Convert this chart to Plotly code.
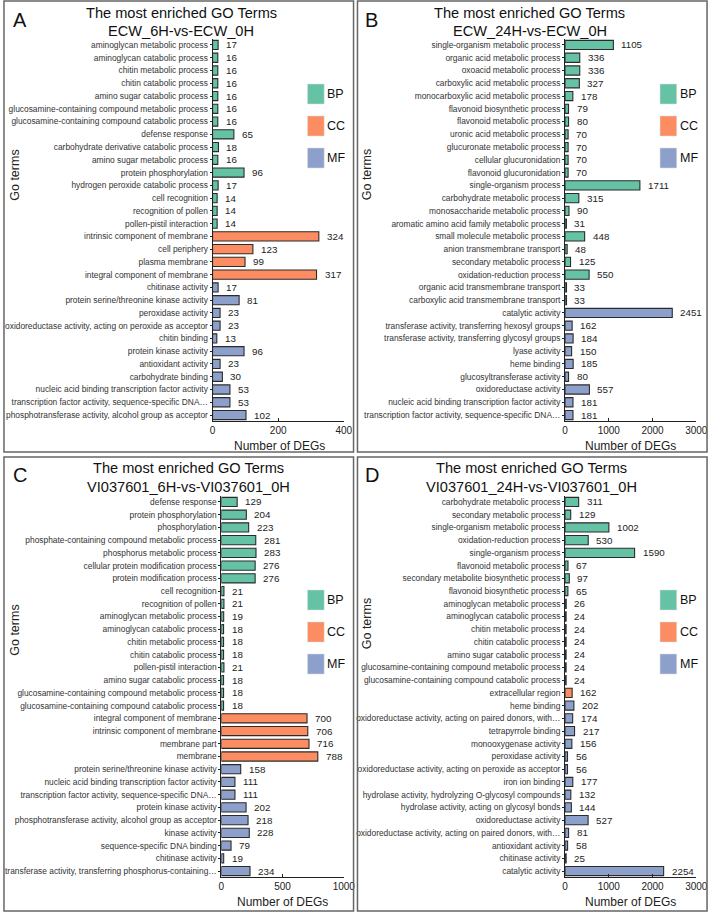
import plotly.graph_objects as go

W, H = 721, 913

# ---------------- Data ----------------
a_terms = [
    "aminoglycan metabolic process", "aminoglycan catabolic process", "chitin metabolic process",
    "chitin catabolic process", "amino sugar catabolic process",
    "glucosamine-containing compound metabolic process", "glucosamine-containing compound catabolic process",
    "defense response", "carbohydrate derivative catabolic process", "amino sugar metabolic process",
    "protein phosphorylation", "hydrogen peroxide catabolic process", "cell recognition",
    "recognition of pollen", "pollen-pistil interaction",
    "intrinsic component of membrane", "cell periphery", "plasma membrane", "integral component of membrane",
    "chitinase activity", "protein serine/threonine kinase activity", "peroxidase activity",
    "oxidoreductase activity, acting on peroxide as acceptor", "chitin binding", "protein kinase activity",
    "antioxidant activity", "carbohydrate binding", "nucleic acid binding transcription factor activity",
    "transcription factor activity, sequence-specific DNA…",
    "phosphotransferase activity, alcohol group as acceptor",
]
a_values = [17, 16, 16, 16, 16, 16, 16, 65, 18, 16, 96, 17, 14, 14, 14,
            324, 123, 99, 317,
            17, 81, 23, 23, 13, 96, 23, 30, 53, 53, 102]
a_groups = ["BP"] * 15 + ["CC"] * 4 + ["MF"] * 11

b_terms = [
    "single-organism metabolic process", "organic acid metabolic process", "oxoacid metabolic process",
    "carboxylic acid metabolic process", "monocarboxylic acid metabolic process",
    "flavonoid biosynthetic process", "flavonoid metabolic process", "uronic acid metabolic process",
    "glucuronate metabolic process", "cellular glucuronidation", "flavonoid glucuronidation",
    "single-organism process", "carbohydrate metabolic process", "monosaccharide metabolic process",
    "aromatic amino acid family metabolic process", "small molecule metabolic process",
    "anion transmembrane transport", "secondary metabolic process", "oxidation-reduction process",
    "organic acid transmembrane transport", "carboxylic acid transmembrane transport",
    "catalytic activity", "transferase activity, transferring hexosyl groups",
    "transferase activity, transferring glycosyl groups", "lyase activity", "heme binding",
    "glucosyltransferase activity", "oxidoreductase activity",
    "nucleic acid binding transcription factor activity",
    "transcription factor activity, sequence-specific DNA…",
]
b_values = [1105, 336, 336, 327, 178, 79, 80, 70, 70, 70, 70, 1711, 315, 90, 31, 448, 48, 125, 550, 33, 33,
            2451, 162, 184, 150, 185, 80, 557, 181, 181]
b_groups = ["BP"] * 21 + ["MF"] * 9

c_terms = [
    "defense response", "protein phosphorylation", "phosphorylation",
    "phosphate-containing compound metabolic process", "phosphorus metabolic process",
    "cellular protein modification process", "protein modification process", "cell recognition",
    "recognition of pollen", "aminoglycan metabolic process", "aminoglycan catabolic process",
    "chitin metabolic process", "chitin catabolic process", "pollen-pistil interaction",
    "amino sugar catabolic process", "glucosamine-containing compound metabolic process",
    "glucosamine-containing compound catabolic process",
    "integral component of membrane", "intrinsic component of membrane", "membrane part", "membrane",
    "protein serine/threonine kinase activity", "nucleic acid binding transcription factor activity",
    "transcription factor activity, sequence-specific DNA…", "protein kinase activity",
    "phosphotransferase activity, alcohol group as acceptor", "kinase activity",
    "sequence-specific DNA binding", "chitinase activity",
    "transferase activity, transferring phosphorus-containing…",
]
c_values = [129, 204, 223, 281, 283, 276, 276, 21, 21, 19, 18, 18, 18, 21, 18, 18, 18,
            700, 706, 716, 788,
            158, 111, 111, 202, 218, 228, 79, 19, 234]
c_groups = ["BP"] * 17 + ["CC"] * 4 + ["MF"] * 9

d_terms = [
    "carbohydrate metabolic process", "secondary metabolic process", "single-organism metabolic process",
    "oxidation-reduction process", "single-organism process", "flavonoid metabolic process",
    "secondary metabolite biosynthetic process", "flavonoid biosynthetic process",
    "aminoglycan metabolic process", "aminoglycan catabolic process", "chitin metabolic process",
    "chitin catabolic process", "amino sugar catabolic process",
    "glucosamine-containing compound metabolic process", "glucosamine-containing compound catabolic process",
    "extracellular region",
    "heme binding", "oxidoreductase activity, acting on paired donors, with…", "tetrapyrrole binding",
    "monooxygenase activity", "peroxidase activity", "oxidoreductase activity, acting on peroxide as acceptor",
    "iron ion binding", "hydrolase activity, hydrolyzing O-glycosyl compounds",
    "hydrolase activity, acting on glycosyl bonds", "oxidoreductase activity",
    "oxidoreductase activity, acting on paired donors, with…", "antioxidant activity",
    "chitinase activity", "catalytic activity",
]
d_values = [311, 129, 1002, 530, 1590, 67, 97, 65, 26, 24, 24, 24, 24, 24, 24,
            162,
            202, 174, 217, 156, 56, 56, 177, 132, 144, 527, 81, 58, 25, 2254]
d_groups = ["BP"] * 15 + ["CC"] * 1 + ["MF"] * 14

a_ticks = [0, 200, 400]
b_ticks = [0, 1000, 2000, 3000]
c_ticks = [0, 500, 1000]
d_ticks = [0, 1000, 2000, 3000]

panel_letters = ["A", "B", "C", "D"]
panel_subtitles = ["ECW_6H-vs-ECW_0H", "ECW_24H-vs-ECW_0H",
                   "VI037601_6H-vs-VI037601_0H", "VI037601_24H-vs-VI037601_0H"]
group_names = ["BP", "CC", "MF"]
group_colors = {"BP": "#66C2A5", "CC": "#FC8D62", "MF": "#8DA0CB"}

FONT = "Liberation Sans, Arial, sans-serif"


def px(x):
    return x / W


def py(y):
    return 1 - y / H


panels = [
    dict(terms=a_terms, values=a_values, groups=a_groups, ticks=a_ticks,
         x0=214, x1=348, top=38.6, bot=421.4, ox=0, oy=0, tcx=182, dcx=282, gty=175),
    dict(terms=b_terms, values=b_values, groups=b_groups, ticks=b_ticks,
         x0=574, x1=708, top=38.6, bot=421.4, ox=360, oy=0, tcx=538, dcx=641, gty=175),
    dict(terms=c_terms, values=c_values, groups=c_groups, ticks=c_ticks,
         x0=223, x1=348, top=495.6, bot=877.4, ox=0, oy=455, tcx=189, dcx=285, gty=630),
    dict(terms=d_terms, values=d_values, groups=d_groups, ticks=d_ticks,
         x0=574, x1=708, top=495.6, bot=877.4, ox=360, oy=455, tcx=540, dcx=641, gty=624),
]

fig = go.Figure()
annotations = []
shapes = []
layout_axes = {}

for k, p in enumerate(panels):
    n = len(p["terms"])
    idx = "" if k == 0 else str(k + 1)
    xa, ya = "x" + idx, "y" + idx
    fig.add_trace(go.Bar(
        x=p["values"], y=list(range(n)), orientation="h",
        marker=dict(color=[group_colors[g] for g in p["groups"]],
                    line=dict(color="#2b2b2b", width=1.1)),
        width=0.72, xaxis=xa, yaxis=ya, showlegend=False, hoverinfo="x+text",
        hovertext=p["terms"],
    ))
    layout_axes["xaxis" + idx] = dict(
        domain=[px(p["x0"]), px(p["x1"])], anchor=ya,
        range=[0, p["ticks"][-1]], tickvals=p["ticks"], ticks="inside", ticklen=3,
        tickcolor="#222", showline=True, linecolor="#222", linewidth=1,
        showgrid=False, zeroline=False, tickfont=dict(size=10, color="#222", family=FONT),
    )
    layout_axes["yaxis" + idx] = dict(
        domain=[py(p["bot"]), py(p["top"])], anchor=xa,
        range=[n - 0.5, -0.5], tickvals=list(range(n)), ticktext=p["terms"],
        ticks="outside", ticklen=2, tickcolor="#222", showline=True, linecolor="#222",
        linewidth=1, showgrid=False, zeroline=False,
        tickfont=dict(size=8.4, color="#333", family=FONT),
    )
    for i, v in enumerate(p["values"]):
        annotations.append(dict(
            x=v, y=i, xref=xa, yref=ya, text=str(v), showarrow=False,
            xanchor="left", yanchor="middle", xshift=6,
            font=dict(size=9.8, color="#222", family=FONT),
        ))
    ox, oy = p["ox"], p["oy"]
    annotations.append(dict(x=px(p["tcx"]), y=py(oy + 13), xref="paper", yref="paper",
                            text="The most enriched GO Terms", showarrow=False,
                            xanchor="center", yanchor="middle",
                            font=dict(size=14.6, color="#111", family=FONT)))
    annotations.append(dict(x=px(p["tcx"]), y=py(oy + 31.5), xref="paper", yref="paper",
                            text=panel_subtitles[k], showarrow=False,
                            xanchor="center", yanchor="middle",
                            font=dict(size=14.6, color="#111", family=FONT)))
    annotations.append(dict(x=px(ox + 8), y=py(oy + 20), xref="paper", yref="paper",
                            text=panel_letters[k], showarrow=False,
                            xanchor="left", yanchor="middle",
                            font=dict(size=20, color="#111", family=FONT)))
    annotations.append(dict(x=px(p["dcx"]), y=py(p["bot"] + 24.5), xref="paper", yref="paper",
                            text="Number of DEGs", showarrow=False,
                            xanchor="center", yanchor="middle",
                            font=dict(size=12, color="#222", family=FONT)))
    annotations.append(dict(x=px(ox + 12), y=py(p["gty"]), xref="paper", yref="paper",
                            text="Go terms", showarrow=False, textangle=-90,
                            xanchor="center", yanchor="middle",
                            font=dict(size=12.5, color="#222", family=FONT)))
    ly0 = oy + 84 if k < 2 else oy + 135
    for j, g in enumerate(group_names):
        y0 = ly0 + j * 32
        shapes.append(dict(type="rect", xref="paper", yref="paper",
                           x0=px(ox + 311), x1=px(ox + 328), y0=py(y0), y1=py(y0 + 20),
                           fillcolor=group_colors[g], line=dict(color="#dddddd", width=0.5)))
        annotations.append(dict(x=px(ox + 329), y=py(y0 + 10), xref="paper", yref="paper",
                                text=g, showarrow=False, xanchor="left", yanchor="middle",
                                font=dict(size=12.5, color="#111", family=FONT)))

for (bx0, by0, bx1, by1) in [(1, 1, 358, 452), (362, 1, 719, 452),
                             (1, 457, 358, 911), (362, 457, 719, 911)]:
    shapes.append(dict(type="rect", xref="paper", yref="paper",
                       x0=px(bx0), x1=px(bx1), y0=py(by1), y1=py(by0),
                       line=dict(color="#666666", width=1.5), fillcolor="rgba(0,0,0,0)"))

fig.update_layout(
    width=W, height=H, autosize=False,
    margin=dict(l=0, r=0, t=0, b=0),
    paper_bgcolor="white", plot_bgcolor="white",
    annotations=annotations, shapes=shapes,
    font=dict(family=FONT),
    **layout_axes,
)

fig.write_html("out.html", config={"displayModeBar": False},
               post_script="document.body.style.margin='0';document.body.style.overflow='hidden';")
